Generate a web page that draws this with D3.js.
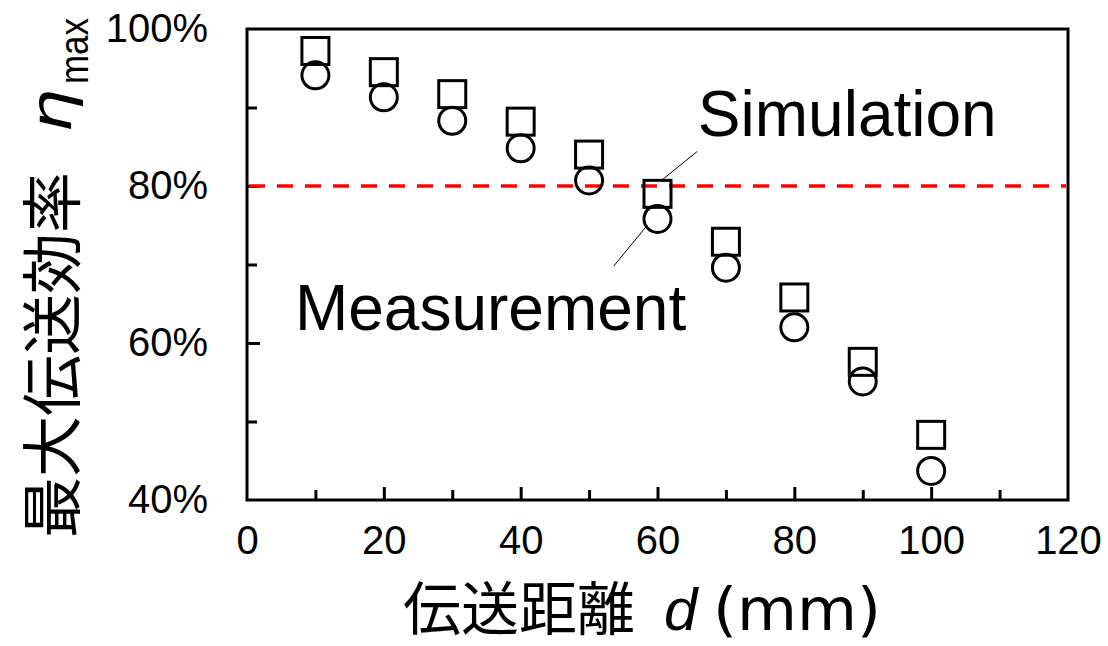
<!DOCTYPE html>
<html>
<head>
<meta charset="utf-8">
<script src="https://cdn.jsdelivr.net/npm/d3@7"></script>
<style>
  html, body { margin: 0; padding: 0; background: #fff; }
  svg { display: block; }
  text { font-family: "Liberation Sans", Arial, sans-serif; fill: #000; }
  .cjk { font-family: "Noto Sans CJK JP", "Liberation Sans", sans-serif; }
  .wide { font-family: "DejaVu Sans", "Liberation Sans", sans-serif; }
</style>
</head>
<body>
<div id="chart"></div>
<script>
// Transmission distance d (mm)
const distances = [10, 20, 30, 40, 50, 60, 70, 80, 90, 100];
// Maximum transmission efficiency (%)
const simulation = [97.2, 94.5, 91.7, 88.2, 84.0, 79.0, 72.9, 65.8, 57.6, 48.3];
const measurement = [94.1, 91.3, 88.3, 84.8, 80.7, 75.8, 69.6, 62.0, 55.1, 43.7];
const threshold = 80;

const xMajorTicks = [0, 20, 40, 60, 80, 100, 120];
const xMinorTicks = [10, 30, 50, 70, 90, 110];
const yMajorTicks = [40, 60, 80, 100];
const yMinorTicks = [50, 70, 90];

const W = 1108, H = 646;
const margin = { top: 29, right: 40, bottom: 146, left: 247 };

const svg = d3.select("#chart").append("svg")
  .attr("width", W).attr("height", H);

const x = d3.scaleLinear().domain([0, 120]).range([margin.left, W - margin.right]);
const y = d3.scaleLinear().domain([40, 100]).range([H - margin.bottom, margin.top]);

// Frame
svg.append("rect")
  .attr("x", x(0)).attr("y", y(100))
  .attr("width", x(120) - x(0)).attr("height", y(40) - y(100))
  .attr("fill", "none").attr("stroke", "#000").attr("stroke-width", 3);

// Inward ticks
const xAxis = svg.append("g").attr("transform", `translate(0,${y(40)})`)
  .call(d3.axisBottom(x).tickValues(xMajorTicks).tickSize(-13).tickPadding(26)
    .tickFormat(d3.format("d")));
xAxis.select(".domain").remove();
xAxis.selectAll(".tick line").attr("stroke-width", 3);
xAxis.selectAll(".tick text").style("font-size", "40px")
  .style("font-family", "'Liberation Sans', Arial, sans-serif").attr("fill", "#000");
xAxis.selectAll(".tick").filter(d => d === 0 || d === 120).select("line").remove();

const xMinor = svg.append("g").attr("transform", `translate(0,${y(40)})`)
  .call(d3.axisBottom(x).tickValues(xMinorTicks).tickSize(-10).tickFormat(""));
xMinor.select(".domain").remove();
xMinor.selectAll(".tick line").attr("stroke-width", 3);

const yAxis = svg.append("g").attr("transform", `translate(${x(0)},0)`)
  .call(d3.axisLeft(y).tickValues(yMajorTicks).tickSize(-13).tickPadding(39)
    .tickFormat(d => d + "%"));
yAxis.select(".domain").remove();
yAxis.selectAll(".tick line").attr("stroke-width", 3);
yAxis.selectAll(".tick text").style("font-size", "40px")
  .style("font-family", "'Liberation Sans', Arial, sans-serif").attr("fill", "#000");
yAxis.selectAll(".tick").filter(d => d === 40 || d === 100).select("line").remove();

const yMinor = svg.append("g").attr("transform", `translate(${x(0)},0)`)
  .call(d3.axisLeft(y).tickValues(yMinorTicks).tickSize(-10).tickFormat(""));
yMinor.select(".domain").remove();
yMinor.selectAll(".tick line").attr("stroke-width", 3);

// 80% reference line
svg.append("line")
  .attr("x1", x(0) + 2).attr("x2", x(120) - 2)
  .attr("y1", y(threshold)).attr("y2", y(threshold))
  .attr("stroke", "#ff0000").attr("stroke-width", 3.5)
  .attr("stroke-dasharray", "16,12");

// Simulation: open squares
const side = 27;
svg.append("g").selectAll("rect")
  .data(distances.map((d, i) => [d, simulation[i]]))
  .join("rect")
  .attr("x", d => x(d[0]) - side / 2)
  .attr("y", d => y(d[1]) - side / 2)
  .attr("width", side).attr("height", side)
  .attr("fill", "none").attr("stroke", "#000").attr("stroke-width", 3);

// Measurement: open circles
svg.append("g").selectAll("circle")
  .data(distances.map((d, i) => [d, measurement[i]]))
  .join("circle")
  .attr("cx", d => x(d[0])).attr("cy", d => y(d[1]))
  .attr("r", 13.5)
  .attr("fill", "none").attr("stroke", "#000").attr("stroke-width", 3);

// Series labels with leader lines
const labels = [
  { text: "Simulation", at: [65.9, 86.4], leader: [[65.8, 84.4], [60.7, 80.8]] },
  { text: "Measurement", at: [7.0, 61.7], leader: [[58.5, 75.0], [53.6, 69.8]] }
];
labels.forEach(l => {
  svg.append("line")
    .attr("x1", x(l.leader[0][0])).attr("y1", y(l.leader[0][1]))
    .attr("x2", x(l.leader[1][0])).attr("y2", y(l.leader[1][1]))
    .attr("stroke", "#000").attr("stroke-width", 1);
  svg.append("text")
    .attr("x", x(l.at[0])).attr("y", y(l.at[1]))
    .style("font-size", "64px")
    .text(l.text);
});

// X axis title
const xBase = 630;
svg.append("text").attr("class", "cjk")
  .attr("x", 403).attr("y", xBase).style("font-size", "58px").text("伝送距離");
svg.append("text")
  .attr("x", 664).attr("y", xBase).style("font-size", "60px")
  .style("font-style", "italic").text("d");
svg.append("text").attr("class", "wide")
  .attr("x", 713).attr("y", xBase).style("font-size", "59px")
  .attr("textLength", 168).attr("lengthAdjust", "spacingAndGlyphs").text("(mm)");

// Y axis title (rotated, reads bottom to top)
svg.append("text").attr("class", "cjk")
  .attr("transform", "translate(75,538) rotate(-90)")
  .style("font-size", "61px").text("最大伝送効率");
svg.append("text").attr("class", "wide")
  .attr("transform", "translate(71,133) rotate(-90)")
  .style("font-size", "56px").style("font-style", "italic")
  .attr("textLength", 44).attr("lengthAdjust", "spacingAndGlyphs").text("η");
svg.append("text")
  .attr("transform", "translate(88,84) rotate(-90)")
  .style("font-size", "40px")
  .attr("textLength", 66).attr("lengthAdjust", "spacingAndGlyphs").text("max");
</script>
</body>
</html>
